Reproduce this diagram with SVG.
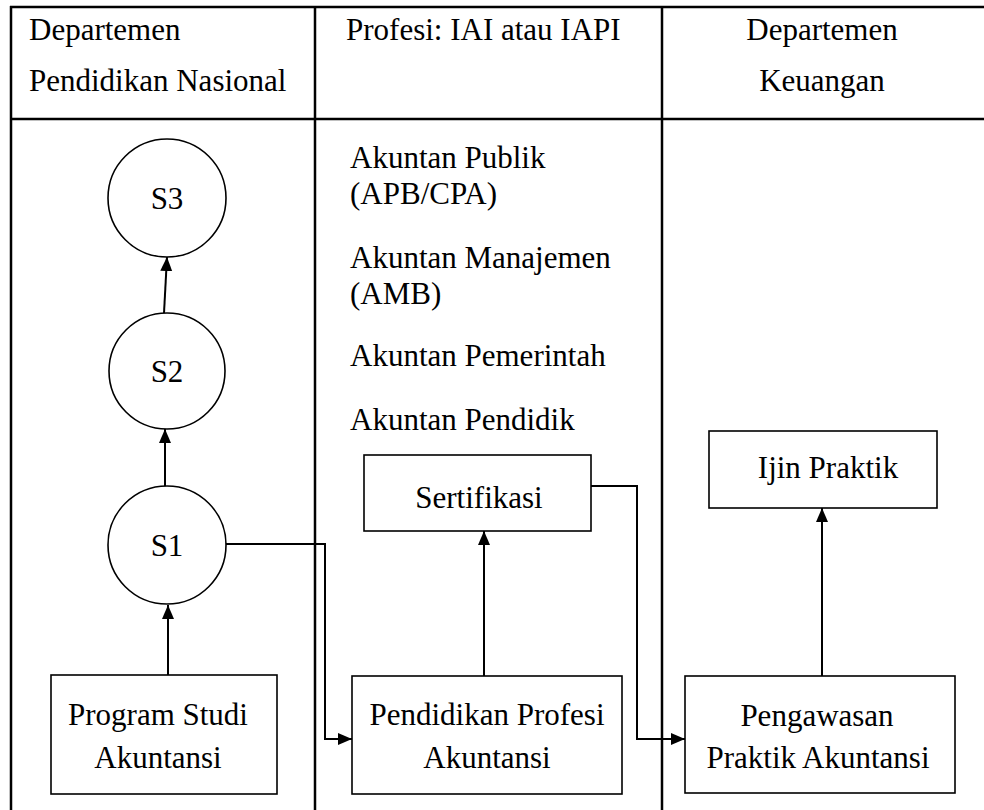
<svg xmlns="http://www.w3.org/2000/svg" width="984" height="810" viewBox="0 0 984 810">
<style>
text{font-family:"Liberation Serif","Times New Roman",serif;font-size:31px;fill:#000}
.c{text-anchor:middle}
.tbl{stroke:#000;stroke-width:2.5;fill:none}
.box{stroke:#000;stroke-width:1.6;fill:#fff}
.con{stroke:#000;stroke-width:2;fill:none}
</style>
<defs>
<marker id="ah" markerUnits="userSpaceOnUse" markerWidth="14" markerHeight="14" viewBox="0 0 14 14" refX="14" refY="7" orient="auto">
<path d="M0,1 L14,7 L0,13 Z" fill="#000"/>
</marker>
</defs>
<rect width="984" height="810" fill="#fff"/>
<g id="table">
<line class="tbl" x1="10" y1="7" x2="984" y2="7"/>
<line class="tbl" x1="11" y1="6" x2="11" y2="810"/>
<line class="tbl" x1="10" y1="119" x2="984" y2="119"/>
<line class="tbl" x1="315" y1="7" x2="315" y2="810"/>
<line class="tbl" x1="662" y1="7" x2="662" y2="810"/>
<text x="29" y="40">Departemen</text>
<text x="29" y="91">Pendidikan Nasional</text>
<text x="346" y="40">Profesi: IAI atau IAPI</text>
<text class="c" x="822" y="40">Departemen</text>
<text class="c" x="822" y="91">Keuangan</text>
</g>
<g id="profesi-list">
<text x="350" y="168">Akuntan Publik</text>
<text x="350" y="204">(APB/CPA)</text>
<text x="350" y="268">Akuntan Manajemen</text>
<text x="350" y="304">(AMB)</text>
<text x="350" y="366">Akuntan Pemerintah</text>
<text x="350" y="430">Akuntan Pendidik</text>
</g>
<g id="connectors">
<line class="con" x1="168" y1="675" x2="168" y2="605" marker-end="url(#ah)"/>
<line class="con" x1="165" y1="487" x2="165" y2="429" marker-end="url(#ah)"/>
<line class="con" x1="164" y1="313" x2="167" y2="257" marker-end="url(#ah)"/>
<polyline class="con" points="226,544 325,544 325,739 352,739" marker-end="url(#ah)"/>
<line class="con" x1="484" y1="676" x2="484" y2="531" marker-end="url(#ah)"/>
<polyline class="con" points="591,486 637,486 637,739 685,739" marker-end="url(#ah)"/>
<line class="con" x1="822" y1="676" x2="822" y2="508" marker-end="url(#ah)"/>
</g>
<g id="s3">
<circle class="box" cx="167" cy="198" r="59"/>
<text class="c" x="167" y="209">S3</text>
</g>
<g id="s2">
<circle class="box" cx="167" cy="371" r="58"/>
<text class="c" x="167" y="382">S2</text>
</g>
<g id="s1">
<circle class="box" cx="167" cy="545" r="59"/>
<text class="c" x="167" y="556">S1</text>
</g>
<g id="program-studi">
<rect class="box" x="51" y="675" width="226" height="119"/>
<text class="c" x="158" y="725">Program Studi</text>
<text class="c" x="158" y="768">Akuntansi</text>
</g>
<g id="sertifikasi">
<rect class="box" x="364" y="455" width="227" height="76"/>
<text class="c" x="479" y="508">Sertifikasi</text>
</g>
<g id="pendidikan-profesi">
<rect class="box" x="352" y="676" width="270" height="118"/>
<text class="c" x="487" y="725">Pendidikan Profesi</text>
<text class="c" x="487" y="768">Akuntansi</text>
</g>
<g id="ijin-praktik">
<rect class="box" x="709" y="431" width="228" height="77"/>
<text class="c" x="828" y="478">Ijin Praktik</text>
</g>
<g id="pengawasan">
<rect class="box" x="685" y="676" width="270" height="117"/>
<text class="c" x="817" y="726">Pengawasan</text>
<text class="c" x="818" y="768">Praktik Akuntansi</text>
</g>
</svg>
